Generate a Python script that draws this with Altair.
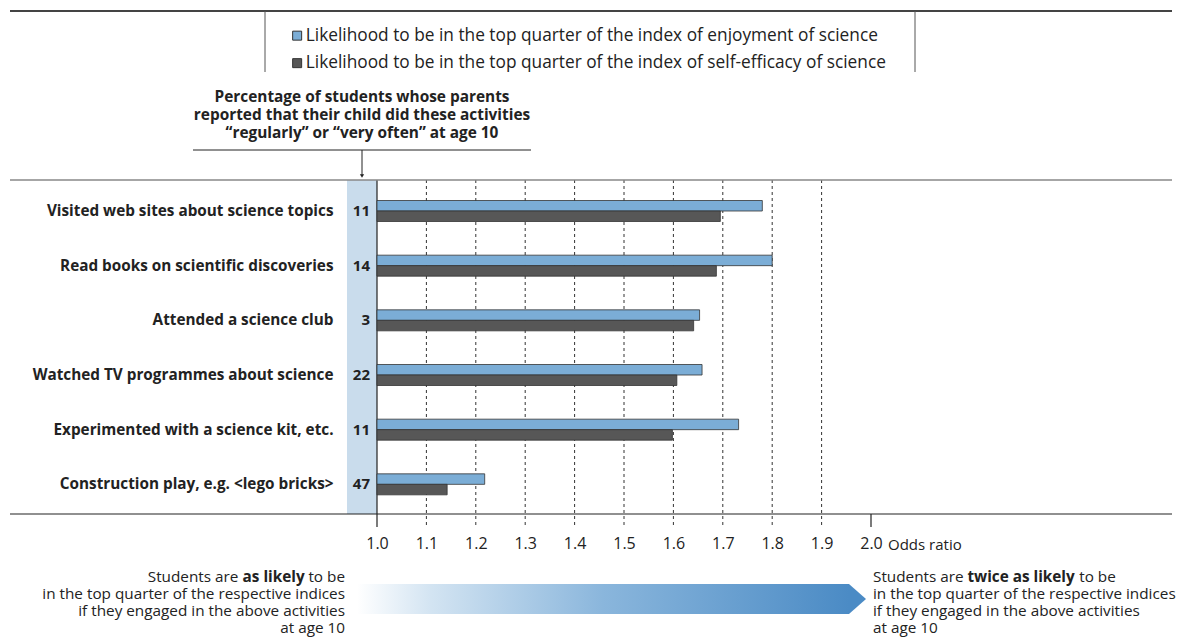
import altair as alt
import pandas as pd

# ---------------- data ----------------
activities = [
    "Visited web sites about science topics",
    "Read books on scientific discoveries",
    "Attended a science club",
    "Watched TV programmes about science",
    "Experimented with a science kit, etc.",
    "Construction play, e.g. <lego bricks>",
]
percent = [11, 14, 3, 22, 11, 47]
enjoyment = [1.78, 1.80, 1.653, 1.658, 1.732, 1.218]
self_efficacy = [1.695, 1.687, 1.641, 1.607, 1.598, 1.142]
series = [
    "Likelihood to be in the top quarter of the index of enjoyment of science",
    "Likelihood to be in the top quarter of the index of self-efficacy of science",
]
series_colors = ["#7badd6", "#575757"]
axis_ticks = [1.0, 1.1, 1.2, 1.3, 1.4, 1.5, 1.6, 1.7, 1.8, 1.9, 2.0]
grid_ticks = [1.1, 1.2, 1.3, 1.4, 1.5, 1.6, 1.7, 1.8, 1.9]
header_lines = [
    "Percentage of students whose parents",
    "reported that their child did these activities",
    "\u201cregularly\u201d or \u201cvery often\u201d at age 10",
]
left_first = ["Students are", "as likely", "to be"]
right_first = ["Students are", "twice as likely", "to be"]
rest_lines = [
    "in the top quarter of the respective indices",
    "if they engaged in the above activities",
    "at age 10",
]

FONT = "Open Sans"
TXT = "#222222"
W, H = 494, 334

rows = []
for a, p, e, s in zip(activities, percent, enjoyment, self_efficacy):
    rows.append({"activity": a, "series": series[0], "value": e, "base": 1.0, "pct": p})
    rows.append({"activity": a, "series": series[1], "value": s, "base": 1.0, "pct": p})
bars_df = pd.DataFrame(rows)
pct_df = pd.DataFrame({"activity": activities, "pct": percent})
one = pd.DataFrame({"a": [0]})

# approximate glyph advance widths (em) for placing mixed-weight segments
REG = {' ': .26, 'S': .55, 't': .35, 'u': .61, 'd': .61, 'e': .56, 'n': .61, 's': .48,
       'a': .56, 'r': .41, 'o': .60, 'b': .61}
BLD = {' ': .26, 'a': .60, 's': .51, 'l': .31, 'i': .31, 'k': .61, 'e': .59, 'y': .57,
       't': .43, 'w': .88, 'c': .51}


def tw(s, table, size):
    return sum(table.get(ch, .55) for ch in s) * size


yscale = alt.Scale(domain=activities, range=[3.7, 331.7], paddingInner=0, paddingOuter=0)
xscale = alt.Scale(domain=[1.0, 2.0], zero=False, nice=False)
xaxis = alt.Axis(values=axis_ticks, format=".1f", grid=False, ticks=False, domain=False,
                 labelFlush=False, labelOverlap=False,
                 labelFont=FONT, labelFontSize=16, labelPadding=21, labelColor=TXT, title=None)

# light-blue column
col_bg = alt.Chart(one).mark_rect(color="#c9dcec").encode(
    x=alt.value(-30), x2=alt.value(0), y=alt.value(0), y2=alt.value(H))

grid = alt.Chart(pd.DataFrame({"v": grid_ticks})).mark_rule(
    color="#333333", strokeWidth=1, strokeDash=[3, 3]).encode(
    x=alt.X("v:Q", scale=xscale, axis=xaxis), y=alt.value(0), y2=alt.value(H + 12))

rule_start = alt.Chart(pd.DataFrame({"v": [1.0]})).mark_rule(color="#222222", strokeWidth=1.2).encode(
    x=alt.X("v:Q", scale=xscale, axis=xaxis), y=alt.value(0), y2=alt.value(H + 13))
rule_end = alt.Chart(pd.DataFrame({"v": [2.0]})).mark_rule(color="#222222", strokeWidth=1.2).encode(
    x=alt.X("v:Q", scale=xscale, axis=xaxis), y=alt.value(H), y2=alt.value(H + 13))

top_line = alt.Chart(one).mark_rule(color="#888888", strokeWidth=1.5).encode(
    x=alt.value(-367), x2=alt.value(795), y=alt.value(0))
bottom_line = alt.Chart(one).mark_rule(color="#222222", strokeWidth=1.2).encode(
    x=alt.value(-367), x2=alt.value(795), y=alt.value(H))
legend_top = alt.Chart(one).mark_rule(color="#444444", strokeWidth=2).encode(
    x=alt.value(-367), x2=alt.value(795), y=alt.value(-169))
legend_l = alt.Chart(one).mark_rule(color="#555555", strokeWidth=1).encode(
    x=alt.value(-112), y=alt.value(-169), y2=alt.value(-108))
legend_r = alt.Chart(one).mark_rule(color="#555555", strokeWidth=1).encode(
    x=alt.value(538), y=alt.value(-169), y2=alt.value(-108))

header = alt.Chart(one).mark_text(
    font=FONT, fontSize=15.4, fontWeight="bold", color=TXT, align="center",
    baseline="middle", lineHeight=18).encode(
    x=alt.value(-15), y=alt.value(-83), text=alt.value(header_lines))
header_line = alt.Chart(one).mark_rule(color="#222222", strokeWidth=1).encode(
    x=alt.value(-184), x2=alt.value(154), y=alt.value(-30))
arrow_line = alt.Chart(one).mark_rule(color="#222222", strokeWidth=1).encode(
    x=alt.value(-15), y=alt.value(-30), y2=alt.value(-5))
arrow_head = alt.Chart(one).mark_point(
    shape="triangle-down", filled=True, color="#222222", opacity=1, size=18).encode(
    x=alt.value(-15), y=alt.value(-4))

bars = alt.Chart(bars_df).mark_bar(stroke="#333333", strokeWidth=0.8).encode(
    y=alt.Y("activity:N", sort=activities, scale=yscale,
            axis=alt.Axis(title=None, domain=False, ticks=False, tickSize=0, labelPadding=44,
                          labelFont=FONT, labelFontSize=15.3, labelFontWeight="bold",
                          labelColor=TXT, labelLimit=400)),
    yOffset=alt.YOffset("series:N", sort=series,
                        scale=alt.Scale(range=[16.8, 37.8], paddingInner=0, paddingOuter=0)),
    x=alt.X("value:Q", scale=xscale, axis=xaxis),
    x2="base:Q",
    color=alt.Color("series:N", sort=series,
                    scale=alt.Scale(domain=series, range=series_colors),
                    legend=alt.Legend(orient="none", legendX=-88.5, legendY=-153, title=None,
                                      symbolType="square", symbolSize=81, symbolStrokeColor="#333333",
                                      symbolStrokeWidth=1, labelFont=FONT, labelFontSize=17.3,
                                      labelColor=TXT, labelOffset=0, rowPadding=9.5,
                                      labelLimit=800, padding=0)),
)

pct_text = alt.Chart(pct_df).mark_text(
    font=FONT, fontSize=15, fontWeight="bold", color=TXT, align="right", baseline="middle").encode(
    y=alt.Y("activity:N", sort=activities, scale=yscale),
    x=alt.value(-7), text="pct:Q")

odds = alt.Chart(one).mark_text(
    font=FONT, fontSize=15, color=TXT, align="left", baseline="middle").encode(
    x=alt.value(511), y=alt.value(365), text=alt.value("Odds ratio"))

grad = alt.LinearGradient(
    gradient="linear", x1=0, x2=1, y1=0, y2=0,
    stops=[alt.GradientStop(color="#ffffff", offset=0),
           alt.GradientStop(color="#d3e4f2", offset=0.15),
           alt.GradientStop(color="#8ab6dc", offset=0.5),
           alt.GradientStop(color="#4b8bc5", offset=1)])
arrow_body = alt.Chart(one).mark_rect(color=grad).encode(
    x=alt.value(-20), x2=alt.value(472), y=alt.value(404), y2=alt.value(434))
arrow_tip = alt.Chart(one).mark_point(
    shape="M0,-1L1.133,0L0,1Z", filled=True, color="#4b8bc5", opacity=1, size=900, strokeWidth=0).encode(
    x=alt.value(472), y=alt.value(419))

FS = 15.3
LH = 17
sp = tw(" ", REG, FS)
# left block: right aligned
R = -32
l_to = R
l_bold = R - tw(left_first[2], REG, FS) - sp
l_stud = l_bold - tw(left_first[1], BLD, FS) - sp
# right block: left aligned
L = 496
r_stud = L
r_bold = L + tw(right_first[0], REG, FS) + sp
r_to = r_bold + tw(right_first[1], BLD, FS) + sp


def seg(text, x, y, align, bold=False):
    return alt.Chart(one).mark_text(
        font=FONT, fontSize=FS, fontWeight="bold" if bold else "normal", color=TXT,
        align=align, baseline="middle").encode(
        x=alt.value(x), y=alt.value(y), text=alt.value(text))


Y1 = 397
segs = [
    seg(left_first[0], l_stud, Y1, "right"),
    seg(left_first[1], l_bold, Y1, "right", True),
    seg(left_first[2], l_to, Y1, "right"),
    seg(right_first[0], r_stud, Y1, "left"),
    seg(right_first[1], r_bold, Y1, "left", True),
    seg(right_first[2], r_to, Y1, "left"),
]
left_rest = alt.Chart(one).mark_text(
    font=FONT, fontSize=FS, color=TXT, align="right", baseline="middle", lineHeight=LH).encode(
    x=alt.value(R), y=alt.value(Y1 + LH), text=alt.value(rest_lines))
right_rest = alt.Chart(one).mark_text(
    font=FONT, fontSize=FS, color=TXT, align="left", baseline="middle", lineHeight=LH).encode(
    x=alt.value(L), y=alt.value(Y1 + LH), text=alt.value(rest_lines))

chart = alt.layer(
    col_bg, grid, rule_start, rule_end, top_line, bottom_line, legend_top, legend_l, legend_r,
    header, header_line, arrow_line, arrow_head, bars, pct_text, odds, arrow_body, arrow_tip,
    *segs, left_rest, right_rest,
).properties(
    width=W, height=H,
    padding={"left": 369, "top": 172, "right": 313, "bottom": 125},
    autosize=alt.AutoSizeParams(type="none"),
).configure_view(stroke=None)

chart.save("out.html", embed_options={"renderer": "svg", "actions": False})
